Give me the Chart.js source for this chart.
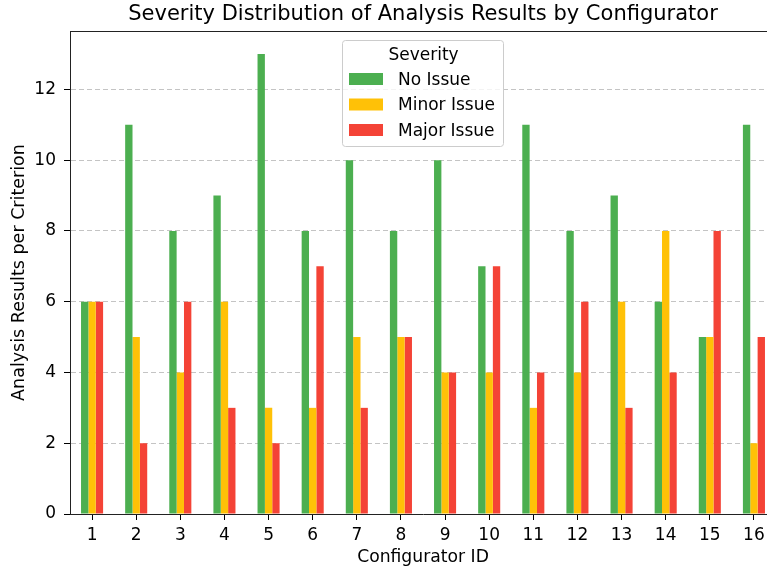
<!DOCTYPE html>
<html>
<head>
<meta charset="utf-8">
<script src="https://cdn.jsdelivr.net/npm/chart.js@4.4.1/dist/chart.umd.min.js"></script>
<style>
  html, body { margin: 0; padding: 0; background: #fff; overflow: hidden; width: 767px; height: 569px; }
  canvas { display: block; }
</style>
</head>
<body>
<canvas id="chart" width="790" height="569" style="width:790px;height:569px"></canvas>
<script>
var configurators = ['1', '2', '3', '4', '5', '6', '7', '8', '9', '10', '11', '12', '13', '14', '15', '16'];
var noIssue    = [6, 11, 8, 9, 13, 8, 10, 8, 10, 7, 11, 8, 9, 6, 5, 11];
var minorIssue = [6, 5, 4, 6, 3, 3, 5, 5, 4, 4, 3, 4, 6, 8, 5, 2];
var majorIssue = [6, 2, 6, 3, 2, 7, 3, 5, 4, 7, 4, 6, 3, 4, 8, 5];
var yTicks = [0, 2, 4, 6, 8, 10, 12];
var yMax = 13.65;

Chart.defaults.font.family = "'DejaVu Sans', sans-serif";
Chart.defaults.color = '#000';

// matplotlib-style legend box inside the axes, plus the top spine
var framePlugin = {
  id: 'frame',
  afterDraw: function(chart) {
    var ctx = chart.ctx, a = chart.chartArea;
    ctx.save();
    ctx.strokeStyle = '#222';
    ctx.lineWidth = 1;
    ctx.beginPath();
    ctx.moveTo(a.left, a.top + 0.5);
    ctx.lineTo(a.right, a.top + 0.5);
    ctx.stroke();

    var bx = 342, by = 40, bw = 161, bh = 106;
    ctx.beginPath();
    ctx.roundRect(bx + 0.5, by + 0.5, bw, bh, 3);
    ctx.fillStyle = 'rgba(255,255,255,0.8)';
    ctx.fill();
    ctx.strokeStyle = '#cccccc';
    ctx.stroke();

    ctx.fillStyle = '#000';
    ctx.font = "17px 'DejaVu Sans'";
    ctx.textAlign = 'center';
    ctx.textBaseline = 'middle';
    ctx.fillText('Severity', bx + bw / 2 + 1, 55.5);
    ctx.textAlign = 'left';
    chart.data.datasets.forEach(function(ds, i) {
      var cy = 79 + i * 25.5;
      ctx.fillStyle = ds.backgroundColor;
      ctx.fillRect(349, cy - 6, 34, 12);
      ctx.fillStyle = '#000';
      ctx.fillText(ds.label, 398, cy + 1.2);
    });
    ctx.restore();
  }
};

new Chart(document.getElementById('chart'), {
  type: 'bar',
  data: {
    labels: configurators,
    datasets: [
      { label: 'No Issue', data: noIssue, backgroundColor: '#4caf50' },
      { label: 'Minor Issue', data: minorIssue, backgroundColor: '#ffc107' },
      { label: 'Major Issue', data: majorIssue, backgroundColor: '#f44336' }
    ]
  },
  options: {
    responsive: false,
    animation: false,
    devicePixelRatio: 1,
    layout: { padding: { left: 0, right: 14, top: 0, bottom: 0 } },
    datasets: { bar: { categoryPercentage: 0.5, barPercentage: 1.0 } },
    plugins: {
      legend: { display: false },
      tooltip: { enabled: false },
      title: {
        display: true,
        fullSize: false,
        text: 'Severity Distribution of Analysis Results by Configurator',
        color: '#000',
        font: { size: 21, weight: 'normal' },
        padding: { top: 2, bottom: 3.8 }
      }
    },
    scales: {
      x: {
        afterFit: function(s) { s.height = 55; },
        grid: { display: true, drawOnChartArea: false, offset: false, tickLength: 6, tickColor: '#000' },
        border: { color: '#222', width: 1 },
        ticks: { color: '#000', font: { size: 17 }, padding: 5, maxRotation: 0 },
        title: { display: true, text: 'Configurator ID', color: '#000', font: { size: 17.2 }, padding: { top: 0, bottom: 1 } }
      },
      y: {
        min: 0,
        max: yMax,
        afterFit: function(s) { s.width = 70; },
        afterBuildTicks: function(s) { s.ticks = yTicks.map(function(v) { return { value: v }; }); },
        grid: {
          color: function(c) { return c.tick && c.tick.value === 0 ? 'rgba(0,0,0,0)' : '#c4c4c4'; },
          lineWidth: 1,
          tickLength: 6,
          tickColor: '#000',
          tickBorderDash: []
        },
        border: { color: '#222', width: 1, dash: [5, 3] },
        ticks: { color: '#000', font: { size: 17 }, padding: 8 },
        title: { display: true, text: 'Analysis Results per Criterion', color: '#000', font: { size: 17.5 }, padding: { top: 9, bottom: 0 } }
      }
    }
  },
  plugins: [framePlugin]
});
</script>
</body>
</html>
